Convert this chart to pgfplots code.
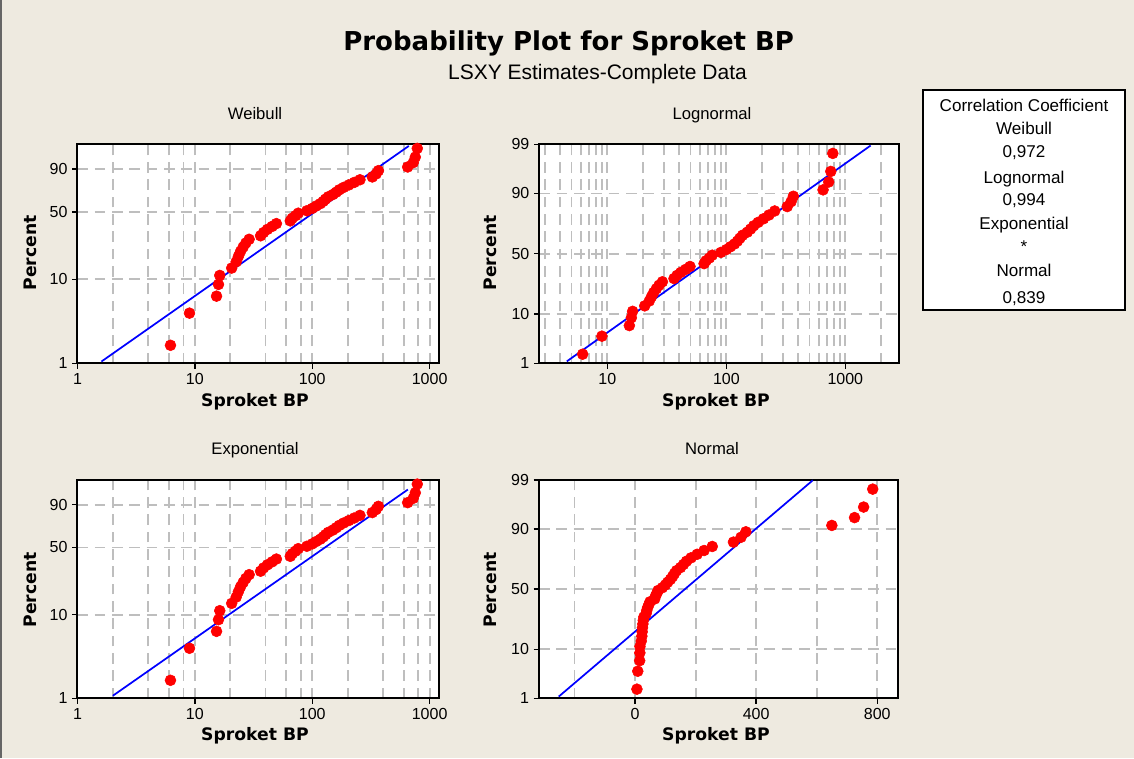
\documentclass[border=0pt]{standalone}
\usepackage{fontspec}
\setmainfont{Liberation Sans}
\newfontfamily\dvs{DejaVu Sans}
\usepackage{pgfplots}
\usepackage{pgfplotstable}
\pgfplotsset{compat=1.18}
\definecolor{bg}{RGB}{238,234,224}
\definecolor{gridgray}{RGB}{190,190,190}

% x = Sproket BP, z = normal score of median rank, w = ln(-ln(1-p)) of median rank
\pgfplotstableread{
x z w
6.2 -2.1320 -4.0955
9.0 -1.7495 -3.1961
15.3 -1.5247 -2.7212
15.9 -1.3578 -2.3935
16.3 -1.2220 -2.1414
20.6 -1.1057 -1.9354
22.5 -1.0027 -1.7603
23.5 -0.9093 -1.6074
24.5 -0.8232 -1.4712
25.8 -0.7429 -1.3479
27.2 -0.6672 -1.2350
29.0 -0.5949 -1.1305
36.3 -0.5258 -1.0328
38.5 -0.4590 -0.9410
41.5 -0.3945 -0.8540
45.5 -0.3311 -0.7711
49.5 -0.2692 -0.6918
65.0 -0.2085 -0.6155
67.5 -0.1484 -0.5419
72.0 -0.0888 -0.4704
76.0 -0.0296 -0.4007
90.0 0.0296 -0.3327
100 0.0888 -0.2659
108 0.1484 -0.2001
117 0.2085 -0.1352
124 0.2692 -0.0707
130 0.3311 -0.0065
137 0.3945 0.0576
150 0.4590 0.1220
160 0.5258 0.1869
170 0.5949 0.2527
185 0.6672 0.3198
205 0.7429 0.3887
228 0.8232 0.4599
255 0.9093 0.5341
325 1.0027 0.6125
350 1.1057 0.6965
366 1.2220 0.7883
650 1.3578 0.8915
725 1.5247 1.0130
755 1.7495 1.1683
785 2.1320 1.4119
}\sproket

\pgfplotsset{
  pp/.style={
    scale only axis,
    axis background/.style={fill=white},
    axis line style={line width=1.5pt},
    tick align=outside,
    xtick pos=bottom, ytick pos=left,
    major tick length=4pt,
    minor tick length=0pt,
    tick style={black, line width=1pt},
    major grid style={gridgray, line width=1.4pt, dash pattern=on 8pt off 5pt},
    minor grid style={gridgray, line width=1.4pt, dash pattern=on 8pt off 5pt},
    ticklabel style={font=\fontsize{12}{14}\selectfont},
    /pgf/number format/assume math mode=true,
  },
  pts/.style={only marks, mark=*, mark size=4.1pt, color=red, mark options={fill=red, draw=red}},
  fit/.style={blue, line width=1.3pt},
  wby/.style={ymin=-4.6002, ymax=1.5272,
    ytick={-4.6002,-2.2504,-0.3665,0.8340}, yticklabels={1,10,50,90}},
  nrmy/.style={ymin=-2.3263, ymax=2.3263,
    ytick={-2.3263,-1.2816,0,1.2816,2.3263}, yticklabels={1,10,50,90,99}},
}

\begin{document}
\begin{tikzpicture}
\fill[bg] (0,0) rectangle (850.5pt,568.5pt);
\useasboundingbox (0,0) rectangle (850.5pt,568.5pt);
\draw[black!60, line width=1.5pt] (0.75pt,0) -- (0.75pt,568.5pt);

% Weibull
\begin{axis}[pp, wby, at={(58.1pt,296pt)}, anchor=south west,
  width=271.5pt, height=164.3pt,
  xmode=log, xmin=1, xmax=1213,
  xtick={1,10,100,1000}, xticklabels={1,10,100,1000},
  minor xtick={2,4,6,8,20,40,60,80,200,400,600,800},
  xmajorgrids, xminorgrids, ymajorgrids]
  \addplot[fit] coordinates {(1.6,-4.55) (665,1.48)};
  \addplot[pts] table[x=x, y=w] {\sproket};
\end{axis}

% Lognormal
\begin{axis}[pp, nrmy, at={(404.5pt,296pt)}, anchor=south west,
  width=270pt, height=164.3pt,
  xmode=log, xmin=2.68, xmax=2845,
  xtick={10,100,1000}, xticklabels={10,100,1000},
  minor xtick={3,4,5,6,7,8,9,20,30,40,50,60,70,80,90,200,300,400,500,600,700,800,900,2000},
  xmajorgrids, xminorgrids, ymajorgrids]
  \addplot[fit] coordinates {(4.56,-2.285) (1633,2.30)};
  \addplot[pts] table[x=x, y=z] {\sproket};
\end{axis}

% Exponential
\begin{axis}[pp, wby, at={(58.1pt,44.8pt)}, anchor=south west,
  width=271.5pt, height=163.7pt,
  xmode=log, xmin=1, xmax=1213,
  xtick={1,10,100,1000}, xticklabels={1,10,100,1000},
  minor xtick={2,4,6,8,20,40,60,80,200,400,600,800},
  xmajorgrids, xminorgrids, ymajorgrids]
  \addplot[fit] coordinates {(2.0,-4.53) (653,1.26)};
  \addplot[pts] table[x=x, y=w] {\sproket};
\end{axis}

% Normal
\begin{axis}[pp, nrmy, at={(404.3pt,44.8pt)}, anchor=south west,
  width=269.3pt, height=163.7pt,
  xmin=-317, xmax=869,
  xtick={0,400,800}, xticklabels={0,400,800},
  minor xtick={-200,200,600},
  xmajorgrids, xminorgrids, ymajorgrids]
  \addplot[fit] coordinates {(-252,-2.29) (587,2.32)};
  \addplot[pts] table[x=x, y=z] {\sproket};
\end{axis}

% titles
\node[anchor=base, font=\dvs\bfseries\fontsize{19.5}{22}\selectfont] at (426.5pt,530.25pt) {Probability Plot for Sproket BP};
\node[anchor=base, font=\fontsize{15.75}{18}\selectfont] at (448.1pt,508.5pt) {LSXY Estimates-Complete Data};

\begin{scope}[every node/.style={anchor=base, font=\fontsize{12.5}{14}\selectfont}]
\node at (191.25pt,478.5pt) {Weibull};
\node at (534pt,478.5pt) {Lognormal};
\node at (191.25pt,228pt) {Exponential};
\node at (534pt,228pt) {Normal};
\end{scope}

\begin{scope}[every node/.style={font=\dvs\bfseries\fontsize{12.9}{15}\selectfont}]
\node[anchor=base] at (191.25pt,264pt) {Sproket BP};
\node[anchor=base] at (537pt,264pt) {Sproket BP};
\node[anchor=base] at (191.25pt,13.5pt) {Sproket BP};
\node[anchor=base] at (537pt,13.5pt) {Sproket BP};
\node[rotate=90] at (22.5pt,378.75pt) {Percent};
\node[rotate=90] at (367.5pt,378.75pt) {Percent};
\node[rotate=90] at (22.5pt,126pt) {Percent};
\node[rotate=90] at (367.5pt,126pt) {Percent};
\end{scope}

% correlation box
\draw[black, line width=0.9pt, fill=white] (692.25pt,501pt) rectangle (843.75pt,336pt);
\begin{scope}[every node/.style={anchor=base, font=\fontsize{12.8}{14}\selectfont}]
\node at (768pt,484.7pt) {Correlation Coefficient};
\node at (768pt,467.8pt) {Weibull};
\node at (768pt,450.2pt) {0,972};
\node at (768pt,431.0pt) {Lognormal};
\node at (768pt,414.2pt) {0,994};
\node at (768pt,396.0pt) {Exponential};
\node at (768pt,378.75pt) {*};
\node at (768pt,361.0pt) {Normal};
\node at (768pt,341.0pt) {0,839};
\end{scope}
\end{tikzpicture}
\end{document}
